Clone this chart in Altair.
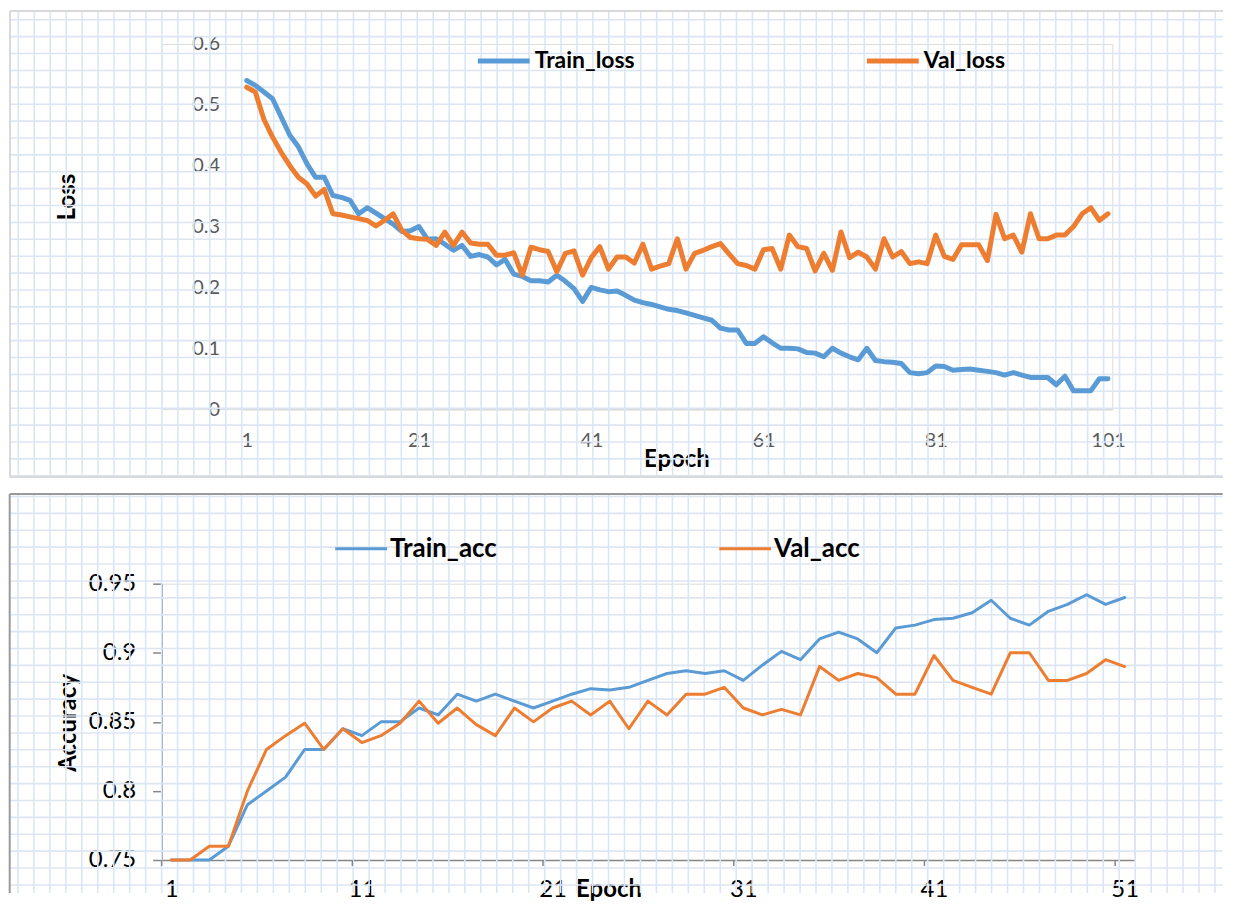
import altair as alt
import pandas as pd

# ---------------- data ----------------
loss_epochs = list(range(1, 102))
train_loss = [
    0.540, 0.532, 0.521, 0.510, 0.480, 0.450, 0.431, 0.403, 0.381, 0.381,
    0.351, 0.348, 0.343, 0.321, 0.331, 0.322, 0.313, 0.304, 0.292, 0.293,
    0.300, 0.279, 0.280, 0.271, 0.261, 0.269, 0.251, 0.254, 0.250, 0.237,
    0.246, 0.222, 0.218, 0.211, 0.211, 0.209, 0.220, 0.210, 0.198, 0.177,
    0.200, 0.196, 0.193, 0.194, 0.187, 0.179, 0.175, 0.172, 0.168, 0.164,
    0.162, 0.158, 0.154, 0.150, 0.146, 0.133, 0.130, 0.130, 0.108, 0.108,
    0.119, 0.109, 0.100, 0.100, 0.099, 0.093, 0.092, 0.086, 0.100, 0.092,
    0.086, 0.081, 0.100, 0.080, 0.078, 0.077, 0.075, 0.060, 0.058, 0.060,
    0.071, 0.070, 0.064, 0.065, 0.066, 0.064, 0.062, 0.060, 0.056, 0.060,
    0.056, 0.052, 0.052, 0.052, 0.040, 0.054, 0.030, 0.030, 0.030, 0.050,
    0.050,
]
val_loss = [
    0.529, 0.521, 0.476, 0.447, 0.422, 0.400, 0.381, 0.370, 0.350, 0.361,
    0.321, 0.319, 0.316, 0.313, 0.310, 0.301, 0.310, 0.321, 0.294, 0.282,
    0.280, 0.279, 0.269, 0.291, 0.269, 0.291, 0.273, 0.271, 0.271, 0.253,
    0.253, 0.257, 0.220, 0.266, 0.262, 0.259, 0.226, 0.256, 0.260, 0.220,
    0.249, 0.267, 0.230, 0.250, 0.250, 0.240, 0.271, 0.230, 0.235, 0.239,
    0.280, 0.230, 0.256, 0.261, 0.267, 0.272, 0.255, 0.239, 0.236, 0.230,
    0.262, 0.264, 0.230, 0.286, 0.267, 0.264, 0.227, 0.256, 0.228, 0.291,
    0.249, 0.258, 0.250, 0.230, 0.280, 0.250, 0.259, 0.239, 0.242, 0.239,
    0.286, 0.251, 0.246, 0.270, 0.270, 0.270, 0.244, 0.320, 0.280, 0.286,
    0.258, 0.321, 0.280, 0.280, 0.286, 0.286, 0.300, 0.321, 0.331, 0.310,
    0.321,
]

acc_epochs = list(range(1, 52))
train_acc = [
    0.75, 0.75, 0.75, 0.76, 0.79, 0.80, 0.81, 0.83, 0.83, 0.845,
    0.84, 0.85, 0.85, 0.86, 0.855, 0.87, 0.865, 0.87, 0.865, 0.86,
    0.865, 0.87, 0.874, 0.873, 0.875, 0.88, 0.885, 0.887, 0.885, 0.887,
    0.88, 0.891, 0.901, 0.895, 0.91, 0.915, 0.91, 0.90, 0.918, 0.92,
    0.924, 0.925, 0.929, 0.938, 0.925, 0.92, 0.93, 0.935, 0.942, 0.935,
    0.94,
]
val_acc = [
    0.75, 0.75, 0.76, 0.76, 0.80, 0.83, 0.84, 0.849, 0.83, 0.845,
    0.835, 0.84, 0.849, 0.865, 0.849, 0.86, 0.848, 0.84, 0.86, 0.85,
    0.86, 0.865, 0.855, 0.865, 0.845, 0.865, 0.855, 0.87, 0.87, 0.875,
    0.86, 0.855, 0.859, 0.855, 0.89, 0.88, 0.885, 0.882, 0.87, 0.87,
    0.898, 0.88, 0.875, 0.87, 0.90, 0.90, 0.88, 0.88, 0.885, 0.895,
    0.89,
]

loss_series = ["Train_loss", "Val_loss"]
acc_series = ["Train_acc", "Val_acc"]
loss_x_ticks = [1, 21, 41, 61, 81, 101]
loss_y_ticks = [0, 0.1, 0.2, 0.3, 0.4, 0.5, 0.6]
acc_x_ticks = [1, 11, 21, 31, 41, 51]
acc_x_tickmarks = [0.5, 10.5, 20.5, 30.5, 40.5, 50.5]
acc_y_ticks = [0.75, 0.8, 0.85, 0.9, 0.95]

# ---------------- style ----------------
BLUE = "#5b9bd5"
ORANGE = "#ed7d31"
COLORS = [BLUE, ORANGE]
FONT = "Lato"
PAPER = "#dce6f2"
ONE = pd.DataFrame({"k": [0]})


def graph_paper(x0, x1, y0, y1, gx0, gy0, sx=16.0, sy=16.93):
    xs, ys = [], []
    v = gx0
    while v <= x1:
        xs.append(round(v, 2))
        v += sx
    v = gy0
    while v <= y1:
        ys.append(round(v, 2))
        v += sy
    vl = alt.Chart(pd.DataFrame({"px": xs})).mark_rule(
        color=PAPER, strokeWidth=1.6
    ).encode(
        x=alt.X("px:Q", scale=None, axis=None),
        y=alt.value(y0), y2=alt.value(y1),
    )
    hl = alt.Chart(pd.DataFrame({"py": ys})).mark_rule(
        color=PAPER, strokeWidth=1.6
    ).encode(
        y=alt.Y("py:Q", scale=None, axis=None),
        x=alt.value(x0), x2=alt.value(x1),
    )
    return [vl, hl]


def frame(x0, x1, y0, y1, color, width, bottom=True):
    parts = [
        alt.Chart(ONE).mark_rule(color=color, strokeWidth=width).encode(
            x=alt.value(x0), x2=alt.value(x1), y=alt.value(y0)),
        alt.Chart(ONE).mark_rule(color=color, strokeWidth=width).encode(
            x=alt.value(x0), y=alt.value(y0), y2=alt.value(y1)),
    ]
    if bottom:
        parts.append(
            alt.Chart(ONE).mark_rule(color=color, strokeWidth=width).encode(
                x=alt.value(x0), x2=alt.value(x1), y=alt.value(y1)))
    return parts


def legend_item(name, color, x, y, line_len, line_w, gap, font_size):
    line = alt.Chart(ONE).mark_rule(color=color, strokeWidth=line_w).encode(
        x=alt.value(x), x2=alt.value(x + line_len), y=alt.value(y))
    txt = alt.Chart(pd.DataFrame({"label": [name]})).mark_text(
        align="left", baseline="middle", font=FONT, fontSize=font_size,
        fontWeight="bold", color="#000000"
    ).encode(text="label:N", x=alt.value(x + line_len + gap), y=alt.value(y))
    return [line, txt]


# ---------------- top panel: loss ----------------
# the view starts OX px left of the plotted region so that both panels'
# frames line up (concat aligns view origins)
OX = 81
W1, H1 = 872, 366
loss_df = pd.DataFrame({
    "Epoch": loss_epochs + loss_epochs,
    "Loss": train_loss + val_loss,
    "Series": [loss_series[0]] * len(train_loss) + [loss_series[1]] * len(val_loss),
})

loss_lines = alt.Chart(loss_df).mark_line(
    strokeWidth=5, strokeJoin="round", strokeCap="round"
).encode(
    x=alt.X("Epoch:Q",
            scale=alt.Scale(domain=[0.5, 101.5], range=[OX, OX + W1],
                            nice=False, zero=False),
            axis=alt.Axis(values=loss_x_ticks, format="d", title="Epoch",
                          ticks=False, tickSize=0, grid=False,
                          domainColor="#d9d9d9", domainWidth=2,
                          labelFont=FONT, labelFontSize=20, labelColor="#595959",
                          labelBaseline="middle", labelPadding=31,
                          titleFont=FONT, titleFontSize=24, titleFontWeight="bold",
                          titleColor="#000000", titleX=OX + 435, titleY=51,
                          titleAlign="center", titleBaseline="middle")),
    y=alt.Y("Loss:Q",
            scale=alt.Scale(domain=[0, 0.6], nice=False, zero=False),
            axis=alt.Axis(values=loss_y_ticks, format=".1~f", title="Loss",
                          ticks=False, tickSize=0, domain=False, grid=False,
                          offset=-OX,
                          labelFont=FONT, labelFontSize=20, labelColor="#595959",
                          labelPadding=23,
                          titleFont=FONT, titleFontSize=24, titleFontWeight="bold",
                          titleColor="#000000", titleAngle=270, titleX=-175, titleY=153,
                          titleAlign="center", titleBaseline="middle")),
    color=alt.Color("Series:N",
                    scale=alt.Scale(domain=loss_series, range=COLORS),
                    legend=None),
)

top = alt.layer(
    *graph_paper(OX - 233, OX + 983, -33, 434, OX - 224.7, -24.3),
    *frame(OX - 233, OX + 983, -33, 434, "#d9d9d9", 2),
    *legend_item(loss_series[0], BLUE, OX + 236, 17, 52, 5, 5, 23),
    *legend_item(loss_series[1], ORANGE, OX + 626, 17, 52, 5, 5, 23),
    loss_lines,
).properties(width=OX + W1, height=H1)

# ---------------- bottom panel: accuracy ----------------
W2, H2 = 975, 277
acc_df = pd.DataFrame({
    "Epoch": acc_epochs + acc_epochs,
    "Accuracy": train_acc + val_acc,
    "Series": [acc_series[0]] * len(train_acc) + [acc_series[1]] * len(val_acc),
})

acc_x_axis = alt.Axis(values=acc_x_ticks, format="d", title="Epoch",
                      ticks=False, tickSize=0, grid=False,
                      domainColor="#868686", domainWidth=1.5,
                      labelFont=FONT, labelFontSize=24, labelColor="#000000",
                      labelBaseline="middle", labelPadding=30,
                      titleFont=FONT, titleFontSize=24, titleFontWeight="bold",
                      titleColor="#000000", titleX=448, titleY=30,
                      titleAlign="center", titleBaseline="middle")
acc_x_scale = alt.Scale(domain=[0.5, 51.5], nice=False, zero=False)

acc_lines = alt.Chart(acc_df).mark_line(
    strokeWidth=3, strokeJoin="round", strokeCap="round"
).encode(
    x=alt.X("Epoch:Q", scale=acc_x_scale, axis=acc_x_axis),
    y=alt.Y("Accuracy:Q",
            scale=alt.Scale(domain=[0.75, 0.95], nice=False, zero=False),
            axis=alt.Axis(values=acc_y_ticks, format=".2~f", title="Accuracy",
                          ticks=True, tickSize=9, tickColor="#868686", tickWidth=1.5,
                          domainColor="#868686", domainWidth=1.5, grid=False,
                          labelFont=FONT, labelFontSize=24, labelColor="#000000",
                          labelPadding=17,
                          titleFont=FONT, titleFontSize=24, titleFontWeight="bold",
                          titleColor="#000000", titleAngle=270, titleX=-93, titleY=139,
                          titleAlign="center", titleBaseline="middle")),
    color=alt.Color("Series:N",
                    scale=alt.Scale(domain=acc_series, range=COLORS),
                    legend=None),
)

acc_tickmarks = alt.Chart(pd.DataFrame({"Epoch": acc_x_tickmarks})).mark_rule(
    color="#868686", strokeWidth=1.5
).encode(
    x=alt.X("Epoch:Q", scale=acc_x_scale, axis=acc_x_axis),
    y=alt.value(H2), y2=alt.value(H2 + 6),
)

bottom = alt.layer(
    *graph_paper(-152.3, 1063.7, -90, 310, -144.0, -87.4),
    *frame(-152.3, 1063.7, -90, 310, "#9a9a9a", 2, bottom=False),
    *legend_item(acc_series[0], BLUE, 174, -35, 52, 3, 3, 26),
    *legend_item(acc_series[1], ORANGE, 559, -35, 52, 3, 3, 26),
    acc_tickmarks,
    acc_lines,
).properties(width=W2, height=H2)

chart = alt.ConcatChart(
    concat=[top, bottom], columns=1, align="none", spacing=13, padding=0
).configure_view(stroke=None).configure(background="white")

chart.save("out.html", embed_options={"renderer": "svg", "actions": False})
